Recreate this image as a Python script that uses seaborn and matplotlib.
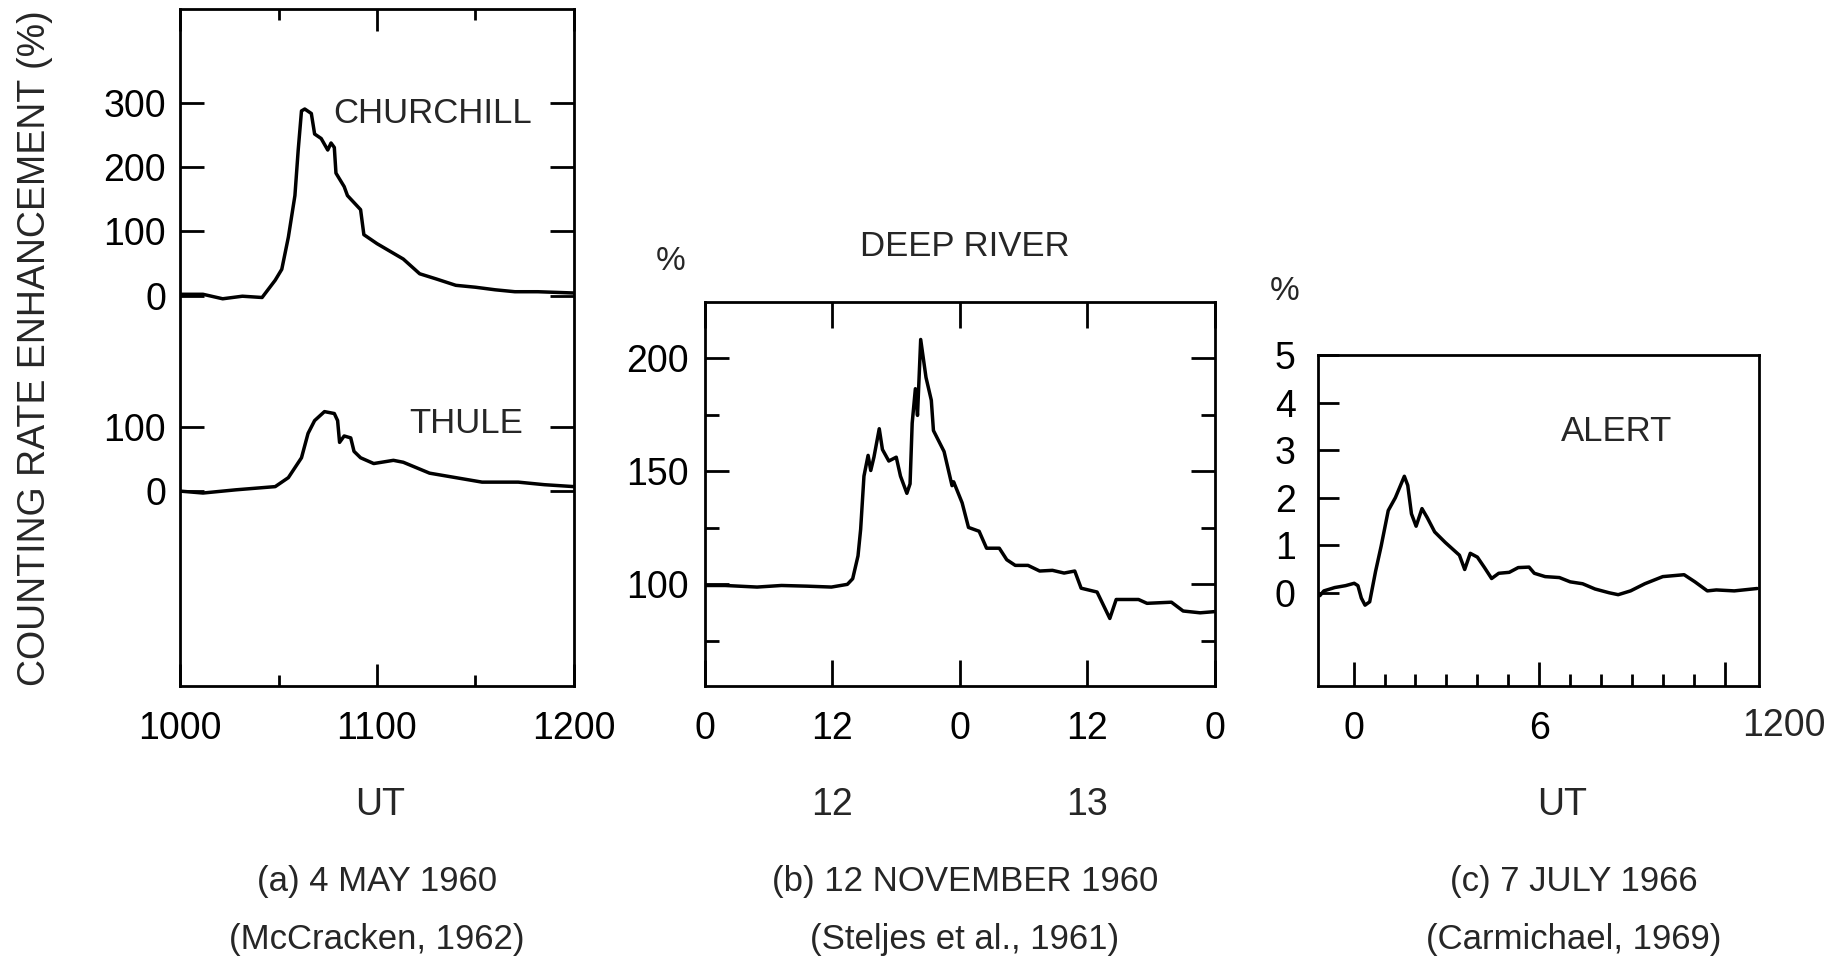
import numpy as np
import pandas as pd
import seaborn as sns
import matplotlib.pyplot as plt
from matplotlib import font_manager

# ---- (a) 4 May 1960: minutes after 1000 UT, enhancement in %
churchill_min = [0, 7, 13, 19, 25, 29, 31, 33, 35, 36, 37, 38, 40, 41, 43, 45, 46, 47,
                 47.5, 50, 51, 55, 56, 60, 65, 68, 73, 78, 84, 90, 96, 102, 109, 120]
churchill_pct = [2, 2, -5, -1, -3, 24, 41, 91, 156, 227, 288, 291, 284, 252, 245, 227, 238, 231,
                 191, 170, 156, 134, 95, 81, 66, 57, 34, 26, 16, 13, 9, 6, 6, 4]
thule_min = [0, 7, 17, 29, 33, 37, 39, 41, 44, 47, 48, 48.6, 50, 52, 53, 55, 59, 65, 68,
             76, 84, 92, 103, 111, 120]
thule_pct = [0, -3, 2, 7, 21, 52, 90, 110, 124, 121, 110, 76, 86, 83, 62, 52, 43, 48, 45,
             28, 21, 14, 14, 10, 7]
thule_offset = -305  # thule trace is drawn lower on the same axis

# ---- (b) 12 Nov 1960 Deep River: hours after 0 UT on 12 Nov, counting rate %
deep_hr = [0.1, 1.9, 4.9, 7.2, 9.6, 11.9, 13.4, 13.9, 14.4, 14.65, 14.96, 15.35, 15.6, 15.9,
           16.4, 16.7, 17.3, 18.0, 18.4, 19.0, 19.3, 19.5, 19.8, 20.0, 20.3, 20.8, 21.3, 21.5,
           22.5, 23.25, 23.4, 24.2, 24.8, 25.8, 26.5, 27.7, 28.4, 29.2, 30.4, 31.5, 32.7, 33.8,
           34.8, 35.4, 36.9, 38.1, 38.7, 39.6, 40.8, 41.6, 43.9, 45.0, 46.6, 47.9]
deep_pct = [99.5, 99.5, 98.8, 99.5, 99.2, 98.8, 100, 102.5, 112.6, 124.4, 147.9, 157.1, 150.4,
            156.3, 168.9, 159.7, 154.6, 156.3, 147.9, 140.3, 144.5, 171.4, 186.6, 174.8, 208.4,
            191.6, 181.5, 168.1, 158.8, 143.7, 145.4, 136.1, 125.2, 123.5, 116.0, 116.0, 110.9,
            108.4, 108.4, 105.9, 106.2, 105.0, 105.9, 98.3, 96.6, 84.9, 93.3, 93.3, 93.3, 91.6,
            92.1, 88.2, 87.4, 87.9]

# ---- (c) 7 July 1966 Alert: hours UT, enhancement %
alert_hr = [-1.09, -0.96, -0.61, -0.26, 0.02, 0.14, 0.25, 0.37, 0.52, 0.71, 0.89, 1.12, 1.35,
            1.64, 1.75, 1.87, 2.02, 2.21, 2.38, 2.62, 2.96, 3.42, 3.59, 3.77, 4.0, 4.23, 4.46,
            4.69, 5.03, 5.32, 5.67, 5.84, 6.19, 6.65, 7.0, 7.4, 7.8, 8.26, 8.55, 8.95, 9.41,
            9.99, 10.68, 11.03, 11.43, 11.72, 12.3, 13.04]
alert_pct = [-0.06, 0.04, 0.11, 0.15, 0.20, 0.15, -0.11, -0.26, -0.19, 0.45, 0.98, 1.73, 2.0,
             2.45, 2.26, 1.66, 1.40, 1.77, 1.58, 1.28, 1.06, 0.79, 0.49, 0.83, 0.75, 0.53, 0.30,
             0.41, 0.43, 0.53, 0.54, 0.41, 0.34, 0.32, 0.23, 0.19, 0.08, 0.0, -0.04, 0.04, 0.19,
             0.34, 0.38, 0.23, 0.04, 0.06, 0.04, 0.09]

sns.set_theme(style='white')
installed = {f.name for f in font_manager.fontManager.ttflist}
font = 'Liberation Sans' if 'Liberation Sans' in installed else 'DejaVu Sans'
plt.rcParams['font.family'] = [font, 'DejaVu Sans']
plt.rcParams['axes.edgecolor'] = 'black'
plt.rcParams['axes.linewidth'] = 2.0

W, H = 1849, 961
fig = plt.figure(figsize=(W / 100, H / 100), dpi=100)

def box(l, t, r, b):
    return [l / W, 1 - b / H, (r - l) / W, (b - t) / H]

LW = 2.5
TS = 27
TICK_Y = 1 - 726 / H   # vertical position of the x tick label row
ROW2_Y = 1 - 805 / H   # "UT" / day row

def style(ax):
    ax.tick_params(which='both', direction='in', colors='black', labelsize=TS, width=2)
    for s in ax.spines.values():
        s.set_color('black')
        s.set_linewidth(2.0)
    ax.set_xlabel('')
    ax.set_ylabel('')

# ---------------- panel (a)
ax1 = fig.add_axes(box(180, 9, 574, 686))
df_c = pd.DataFrame({'t': churchill_min, 'v': churchill_pct})
df_t = pd.DataFrame({'t': thule_min, 'v': np.array(thule_pct) + thule_offset})
sns.lineplot(data=df_c, x='t', y='v', ax=ax1, color='black', lw=LW, sort=False, estimator=None)
sns.lineplot(data=df_t, x='t', y='v', ax=ax1, color='black', lw=LW, sort=False, estimator=None)
ax1.set_xlim(0, 120)
ax1.set_ylim(-609, 447)
style(ax1)
ax1.set_xticks([0, 60, 120])
ax1.set_xticklabels(['1000', '1100', '1200'])
ax1.set_xticks([30, 90], minor=True)
ax1.set_yticks([300, 200, 100, 0, 100 + thule_offset, thule_offset])
ax1.set_yticklabels(['300', '200', '100', '0', '100', '0'])
ax1.tick_params(axis='x', which='major', length=16, pad=18, top=True, bottom=True)
ax1.tick_params(axis='x', which='minor', length=8, top=True, bottom=True)
ax1.tick_params(axis='y', which='major', length=17, pad=10, left=True, right=True)
ax1.text(77, 284, 'CHURCHILL', fontsize=25, ha='center', va='center')
ax1.text(87, -199, 'THULE', fontsize=25, ha='center', va='center')

# ---------------- panel (b)
ax2 = fig.add_axes(box(705, 302, 1215, 686))
df_d = pd.DataFrame({'t': deep_hr, 'v': deep_pct})
sns.lineplot(data=df_d, x='t', y='v', ax=ax2, color='black', lw=LW, sort=False, estimator=None)
ax2.set_xlim(0, 48)
ax2.set_ylim(55, 225)
style(ax2)
ax2.set_xticks([0, 12, 24, 36, 48])
ax2.set_xticklabels(['0', '12', '0', '12', '0'])
ax2.set_yticks([100, 150, 200])
ax2.set_yticklabels(['100', '150', '200'])
ax2.set_yticks([75, 125, 175], minor=True)
ax2.tick_params(axis='x', which='major', length=19, pad=18, top=True, bottom=True)
ax2.tick_params(axis='y', which='major', length=17, pad=12, left=True, right=True)
ax2.tick_params(axis='y', which='minor', length=10, left=True, right=True)
for x, lab in zip([12, 36], ['12', '13']):
    ax2.annotate(lab, xy=(x, ROW2_Y), xycoords=('data', 'figure fraction'),
                 fontsize=TS, ha='center', va='center')

# ---------------- panel (c)
ax3 = fig.add_axes(box(1318, 355, 1759, 686))
df_a = pd.DataFrame({'t': alert_hr, 'v': alert_pct})
sns.lineplot(data=df_a, x='t', y='v', ax=ax3, color='black', lw=LW, sort=False, estimator=None)
ax3.set_xlim(-1.15, 13.1)
ax3.set_ylim(-1.96, 5)
style(ax3)
ax3.set_xticks([0, 6, 12])
ax3.set_xticklabels(['0', '6', ''])
ax3.set_xticks([h for h in range(1, 12) if h != 6], minor=True)
ax3.set_yticks([0, 1, 2, 3, 4, 5])
ax3.set_yticklabels(['0', '1', '2', '3', '4', '5'])
ax3.tick_params(axis='x', which='major', length=17, pad=18, top=False, bottom=True)
ax3.tick_params(axis='x', which='minor', length=9, top=False, bottom=True)
ax3.tick_params(axis='y', which='major', length=15, pad=16, left=True, right=False)
ax3.annotate('1200', xy=(13.9, TICK_Y), xycoords=('data', 'figure fraction'),
             fontsize=TS, ha='center', va='center', annotation_clip=False)
ax3.text(8.5, 3.39, 'ALERT', fontsize=25, ha='center', va='center')

# ---------------- figure texts
fig.text(35 / W, 1 - 348 / H, 'COUNTING RATE ENHANCEMENT (%)', rotation=90,
         fontsize=27, ha='center', va='center')
fig.text(380 / W, ROW2_Y, 'UT', fontsize=TS, ha='center', va='center')
fig.text(1562 / W, ROW2_Y, 'UT', fontsize=TS, ha='center', va='center')
fig.text(671 / W, 1 - 262 / H, '%', fontsize=24, ha='center', va='center')
fig.text(1285 / W, 1 - 292 / H, '%', fontsize=24, ha='center', va='center')
fig.text(965 / W, 1 - 246 / H, 'DEEP RIVER', fontsize=25, ha='center', va='center')

captions = [(377, '(a) 4 MAY 1960', '(McCracken, 1962)'),
            (965, '(b) 12 NOVEMBER 1960', '(Steljes et al., 1961)'),
            (1574, '(c) 7 JULY 1966', '(Carmichael, 1969)')]
for x, c1, c2 in captions:
    fig.text(x / W, 1 - 882 / H, c1, fontsize=25, ha='center', va='center')
    fig.text(x / W, 1 - 940 / H, c2, fontsize=25, ha='center', va='center')

fig.savefig('out.png', dpi=100, facecolor='white')
